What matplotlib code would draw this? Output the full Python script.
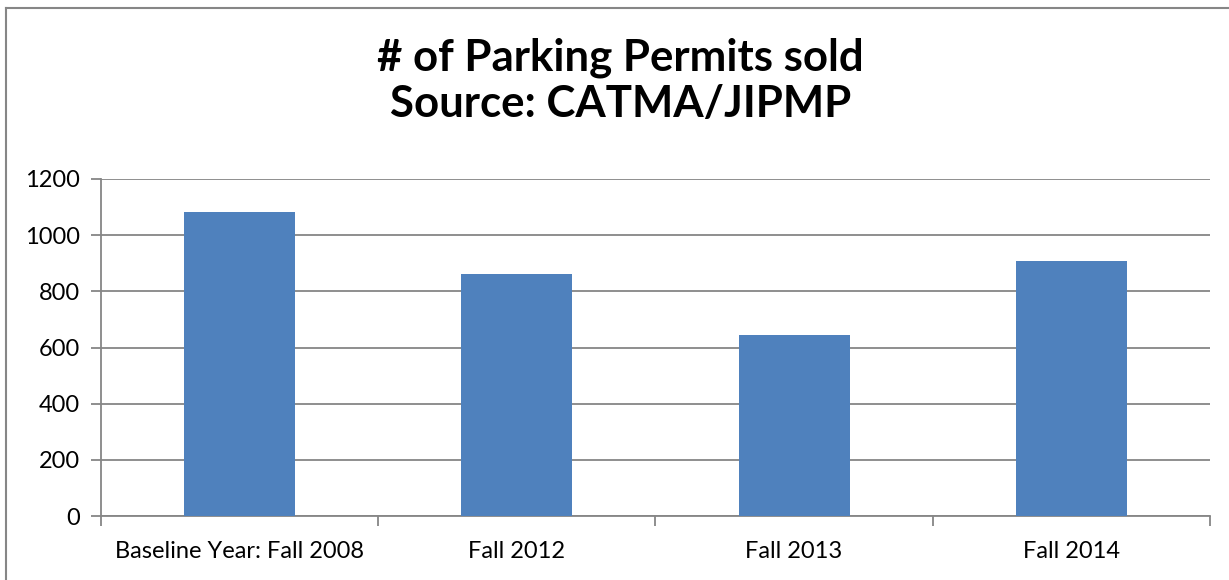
import matplotlib.pyplot as plt
from matplotlib.lines import Line2D

categories = ["Baseline Year: Fall 2008", "Fall 2012", "Fall 2013", "Fall 2014"]
permits = [1081, 862, 645, 907]

plt.rcParams["font.family"] = ["Lato", "DejaVu Sans"]

fig = plt.figure(figsize=(12.29, 5.80), dpi=100)
ax = fig.add_axes([0.0822, 0.1103, 0.9023, 0.5811])

x = list(range(len(categories)))
ax.bar(x, permits, width=0.4, color="#4F81BD", zorder=3)

grey = "#868686"
ax.set_xlim(-0.5, len(categories) - 0.5)
ax.set_ylim(0, 1200)
ax.set_yticks(range(0, 1201, 200))
ax.yaxis.grid(True, color=grey, linewidth=1.3, zorder=0)
ax.tick_params(axis="y", length=7, width=1.3, color=grey, labelsize=17, pad=8)

# boundary ticks as major, category labels as minor
ax.set_xticks([i - 0.5 for i in range(len(categories) + 1)])
ax.set_xticklabels([])
ax.set_xticks(x, minor=True)
ax.set_xticklabels(categories, minor=True)
ax.tick_params(axis="x", which="major", length=7, width=1.3, color=grey)
ax.tick_params(axis="x", which="minor", length=0, labelsize=17, pad=18)

for side in ["top", "right"]:
    ax.spines[side].set_visible(False)
for side in ["left", "bottom"]:
    ax.spines[side].set_color(grey)
    ax.spines[side].set_linewidth(1.3)

fig.text(0.505, 0.9, "# of Parking Permits sold", ha="center", va="center",
         fontsize=31.5, fontweight="bold")
fig.text(0.505, 0.82, "Source: CATMA/JIPMP", ha="center", va="center",
         fontsize=31.5, fontweight="bold")

# chart area border (cropped on the right and bottom)
fig.add_artist(Line2D([0.005, 0.005], [0, 0.986], transform=fig.transFigure,
                      color=grey, linewidth=1.5))
fig.add_artist(Line2D([0.005, 1.0], [0.986, 0.986], transform=fig.transFigure,
                      color=grey, linewidth=1.5))

fig.savefig("out.png", dpi=100)
